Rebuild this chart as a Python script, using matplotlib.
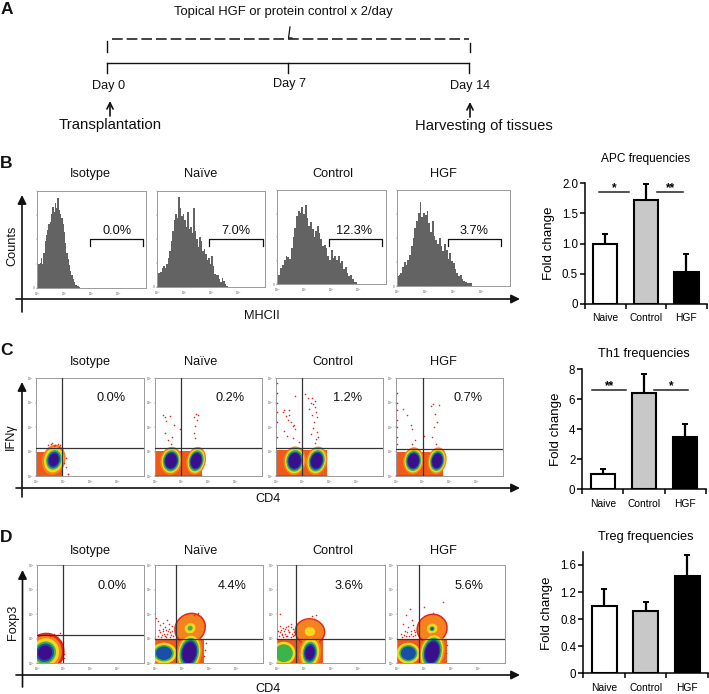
import matplotlib
matplotlib.use('Agg')
import matplotlib.pyplot as plt
from matplotlib.patches import Ellipse, Rectangle

plt.rcParams['font.family'] = ['Liberation Sans', 'DejaVu Sans']

W, H = 709, 694
groups = ['Isotype', 'Naïve', 'Control', 'HGF']
bar_names = ['Naive', 'Control', 'HGF']
bar_colors = ['white', '#c8c8c8', 'black']

# histograms, one height per bin (fraction of the panel height)
hist_isotype = [.24, .25, .26, .31, .25, .36, .48, .55, .60, .66, .68, .76, .84, .78, .88, .82, .93, .80, .76, .72,
                .66, .58, .46, .36, .30, .24, .18, .13, .09, .06, .03, .02, .02, .01, 0]
hist_naive = [.15, .15, .16, .20, .22, .20, .24, .30, .38, .48, .58, .70, .76, .72, .94, .82, .74, .76, .70, .62,
              .78, .60, .62, .56, .82, .58, .50, .42, .52, .48, .38, .40, .34, .28, .30, .24, .32, .22, .14, .12,
              .13, .08, .05, .09, .06, .03, .01, 0]
hist_control = [.10, .10, .17, .20, .26, .30, .29, .27, .38, .50, .60, .72, .78, .76, .82, .74, .84, .70, .62, .66,
                .58, .50, .56, .62, .54, .48, .40, .42, .38, .30, .26, .36, .28, .30, .26, .30, .22, .24, .16, .18,
                .12, .08, .10, .05, .02, .02, 0]
hist_hgf = [.10, .11, .14, .20, .25, .22, .27, .32, .42, .50, .60, .68, .76, .88, .72, .76, .74, .78, .66, .56,
            .68, .52, .48, .44, .50, .42, .36, .44, .38, .28, .34, .26, .24, .18, .14, .10, .11, .07, .05, .04,
            .03, .03, .03, 0]
hist_values = [hist_isotype, hist_naive, hist_control, hist_hgf]
hist_span = [.41, .67, .75, .68]
hist_pct = ['0.0%', '7.0%', '12.3%', '3.7%']
th1_pct = ['0.0%', '0.2%', '1.2%', '0.7%']
treg_pct = ['0.0%', '4.4%', '3.6%', '5.6%']

# bar values and top of the error bar
apc_vals = [1.0, 1.73, 0.52]
apc_tops = [1.16, 1.99, 0.82]
th1_vals = [1.0, 6.4, 3.5]
th1_tops = [1.35, 7.7, 4.35]
treg_vals = [1.0, 0.92, 1.43]
treg_tops = [1.24, 1.05, 1.75]

# flow plots, axes are log10 decades 0-4
layer_colors = ['#e8261c', '#f6821f', '#f7d61e', '#3cb44a', '#1a4fa8', '#3b0f8c']
scales = [[1, .86, .72, .56, .46, .36],
          [1, .85, .74, .64, .54, .46],
          [1, .90, .34, .16, .10, .06]]
bed_color = '#f0581c'

# blobs: x, y, width, height, angle, first layer, last layer, scale
th1_blobs = [
    [(.66, .66, 1.0, 1.45, -10, 1, 6, 0)],
    [(.60, .62, .95, 1.35, -6, 1, 6, 1), (1.54, .62, .85, 1.35, -10, 1, 6, 1)],
    [(.70, .62, .98, 1.38, -5, 1, 6, 1), (1.52, .62, .92, 1.38, -10, 1, 6, 1)],
    [(.65, .62, .9, 1.3, -5, 1, 6, 1), (1.54, .62, .82, 1.3, -8, 1, 6, 1)],
]
# beds: x start, width, height
th1_beds = [(0, .95, 1.0), (0, 1.75, 1.02), (0, 1.90, 1.05), (0, 1.75, 1.0)]
treg_blobs = [
    [(.30, .42, 1.45, 1.65, -15, 0, 6, 0)],
    [(1.30, 1.42, 1.15, 1.3, -25, 0, 4, 2), (.33, .40, 1.3, 1.2, 0, 2, 5, 0), (1.27, .42, 1.1, 1.9, -8, 1, 6, 1)],
    [(1.22, 1.28, 1.15, 1.1, -25, 0, 3, 2), (.25, .40, 1.2, 1.3, 0, 2, 4, 0), (1.22, .42, .95, 1.6, -5, 1, 6, 0)],
    [(1.30, 1.40, 1.15, 1.25, -20, 0, 5, 2), (.42, .40, 1.2, 1.2, 0, 2, 5, 0), (1.30, .44, 1.1, 1.9, -10, 1, 6, 1)],
]
treg_beds = [None, (0, 1.80, .97), (0, 1.70, .97), (0, 1.85, 1.0)]
th1_gates = [(.96, 1.16), (.98, 1.14), (.99, 1.14), (1.02, 1.12)]
treg_gates = [(.99, 1.13), (.76, .97), (.71, .97), (.82, 1.0)]

# sparse events above the populations
th1_dots_x = [
    [.45, .55, .65, .72, .80, .58, 1.05, 1.12, 1.2, .85, .90, 1.10, 1.18],
    [.30, .38, .42, .55, .65, .70, .38, .60, .50, .95, 1.45, 1.55, 1.62, 1.58, 1.50, 1.46, 1.48],
    [.04, .04, .04, .04, .04, .04, .25, .30, .38, .45, .5, .55, .62, .70, .72, .68, .40, .30, .85, .62, .48,
     1.1, 1.2, 1.3, 1.35, 1.4, 1.45, 1.5, 1.55, 1.42, 1.38, 1.3, 1.48, 1.52, 1.25, 1.36, 1.44, 1.46, 1.56],
    [.03, .03, .03, .03, .03, .03, .03, .28, .40, .55, .60, .72, .58, 1.05, 1.32, 1.40, 1.45, 1.55, 1.60, 1.42, 1.36, 1.5],
]
th1_dots_y = [
    [1.25, 1.3, 1.22, 1.28, 1.32, 1.36, .55, .35, .1, 1.2, 1.25, .75, .08],
    [2.5, 2.4, 2.25, 2.45, 1.6, 2.1, 1.75, 1.3, 1.45, 1.9, 2.4, 2.55, 2.5, 2.3, 2.05, 1.75, 1.55],
    [3.8, 3.4, 3.0, 2.6, 2.2, 1.6, 2.6, 2.7, 2.45, 2.3, 2.5, 2.2, 2.05, 1.9, 3.25, 2.1, 1.65, 1.85, 1.4, 1.55, 2.7,
     3.35, 3.2, 3.0, 3.2, 2.95, 2.8, 2.6, 2.4, 2.2, 1.95, 1.7, 1.5, 1.8, 2.75, 2.5, 3.05, 1.35, 1.6],
    [3.4, 3.0, 2.7, 2.3, 2.0, 1.6, 1.3, 2.75, 2.5, 2.1, 1.9, 1.45, 1.3, 1.65, 2.85, 2.95, 2.55, 2.2, 2.9, 2.0, 1.6, 1.3],
]
treg_dots_x = [
    [.50, .62, .78, .85, .88, .92, .95, 1.02, 1.0, .98],
    [.05, .12, .18, .30, .38, .45, .52, .62, .20, .35, .48, .58, 1.45, 1.6, .30, .42, .10, .22, .28, .36, .44, .50,
     .56, .64, .68, .14, .26, .40, .54, 1.9, 1.85, 1.8],
    [.10, .15, .25, .35, .42, .5, .6, .2, .3, .45, 1.3, 1.38, 1.45, .55, .12, .05, .08, .18, .22, .28, .38, .46,
     .52, .58, .62, .12, .24, .33, .4, .5, .64, .68],
    [.22, .35, .48, .55, .62, .3, .42, .5, .65, 1.0, 1.35, 1.72, .15, .6, .18, .26, .34, .38, .46, .52, .58, .68,
     .74, 1.85, 1.8],
]
treg_dots_y = [
    [1.12, 1.18, 1.15, 1.22, .9, .7, .5, .35, .2, .85],
    [1.85, 1.7, 1.55, 1.4, 1.45, 1.75, 1.6, 1.5, 1.25, 1.2, 1.3, 1.15, 1.95, 2.05, 1.65, 1.35, 1.1, 1.05, 1.3, 1.1,
     1.2, 1.38, 1.05, 1.3, 1.1, 1.35, 1.15, 1.05, 1.25, .8, .55, .3],
    [1.5, 1.35, 1.3, 1.45, 1.35, 1.6, 1.4, 1.15, 1.2, 1.25, 1.9, 1.8, 1.95, 1.2, 2.0, 1.3, 1.1, 1.2, 1.05, 1.38,
     1.1, 1.25, 1.45, 1.1, 1.25, 1.25, 1.42, 1.12, 1.5, 1.05, 1.15, 1.3],
    [1.6, 1.95, 2.2, 1.75, 1.35, 1.3, 1.45, 1.2, 1.25, 2.3, 2.05, 2.5, 1.2, 1.55, 1.05, 1.15, 1.1, 1.25, 1.1, 1.3,
     1.1, 1.15, 1.3, .75, .4],
]


def px_axes(fig, x0, y0, x1, y1):
    return fig.add_axes([x0 / W, 1 - y1 / H, (x1 - x0) / W, (y1 - y0) / H])


def style_panel(ax):
    for s in ax.spines.values():
        s.set_color('#9a9a9a')
        s.set_linewidth(0.7)
    ax.tick_params(length=1, width=0.3, color='#666666', labelsize=2.2, pad=0.5, labelcolor='#555555')


def plot_hist(ax, values, span):
    step = span / len(values)
    bins = [i * step for i in range(len(values))]
    ax.bar(bins, values, width=step, align='edge', color='#636363', linewidth=0)
    ax.set_xlim(0, 1)
    ax.set_ylim(0, 1)
    ax.set_xticks([0, .25, .5, .75, 1])
    ax.set_yticks([0, .25, .5, .75, 1])
    ax.set_xticklabels(['10$^0$', '10$^1$', '10$^2$', '10$^3$', ''])
    ax.set_yticklabels(['0', '', '', '', ''])
    style_panel(ax)


def plot_flow(ax, blobs, gate, xs, ys, bed, base_line):
    ax.set_xlim(0, 4)
    ax.set_ylim(0, 4)
    if bed is not None:
        ax.add_patch(Rectangle((bed[0], 0), bed[1], bed[2], color=bed_color, lw=0, zorder=1))
    z = 2
    for cx, cy, w, h, ang, first, last, sc in blobs:
        for k in range(first, last):
            ax.add_patch(Ellipse((cx, cy), w * scales[sc][k], h * scales[sc][k], angle=ang,
                                 color=layer_colors[k], lw=0, zorder=z))
            z += 1
    if base_line and bed is not None:
        ax.plot([bed[0], bed[0] + bed[1]], [0.02, 0.02], color='#3b0f8c', lw=1, zorder=z)
    ax.scatter(xs, ys, s=1.3, color='#e8261c', linewidths=0, zorder=z)
    ax.axvline(gate[0], color='#333333', lw=0.9, zorder=z + 1)
    ax.axhline(gate[1], color='#333333', lw=0.9, zorder=z + 1)
    ax.set_xticks(range(5))
    ax.set_yticks(range(5))
    ax.set_xticklabels(['10$^%d$' % i for i in range(4)] + [''])
    ax.set_yticklabels(['10$^%d$' % i for i in range(5)])
    style_panel(ax)


def plot_bars(ax, vals, tops, yticks, ylabels, ymax):
    lower = [0, 0, 0]
    upper = [t - v for t, v in zip(tops, vals)]
    ax.bar(range(3), vals, width=0.6, color=bar_colors, edgecolor='black', linewidth=1.5, zorder=2,
           yerr=[lower, upper], error_kw=dict(ecolor='black', elinewidth=1.6, capsize=2.2, capthick=1.4, zorder=1))
    ax.set_xlim(-0.5, 2.5)
    ax.set_ylim(0, ymax)
    ax.spines['top'].set_visible(False)
    ax.spines['right'].set_visible(False)
    ax.spines['left'].set_linewidth(1.1)
    ax.spines['bottom'].set_linewidth(1.1)
    ax.set_yticks(yticks)
    ax.set_yticklabels(ylabels, fontsize=8.3)
    ax.set_xticks([-.5, .5, 1.5, 2.5])
    ax.set_xticklabels([])
    ax.set_xticks([0, 1, 2], minor=True)
    ax.set_xticklabels(bar_names, minor=True, fontsize=7.4)
    ax.tick_params(axis='x', which='major', length=3.5, width=1.1)
    ax.tick_params(axis='x', which='minor', length=0, pad=7)
    ax.tick_params(axis='y', length=3.5, width=1.1, pad=1.5)
    ax.set_ylabel('Fold change', fontsize=9.6, labelpad=5)


def sig_line(ax, x0, x1, y, stars, off):
    ax.plot([x0, x1], [y, y], color='#222222', lw=1.1, clip_on=False, zorder=3)
    ax.text((x0 + x1) / 2, y - off, stars, ha='center', va='center', fontsize=8.5, fontweight='bold', zorder=3)


fig = plt.figure(figsize=(W / 100, H / 100), dpi=100)

# overlay in pixel coordinates for the annotations
over = fig.add_axes([0, 0, 1, 1], zorder=10)
over.set_xlim(0, W)
over.set_ylim(H, 0)
over.axis('off')
over.patch.set_alpha(0)


def txt(x, y, s, size=9.2, **kw):
    kw.setdefault('ha', 'center')
    over.text(x, y, s, fontsize=size, va='center', color='#111111', **kw)


def arrow(x0, y0, x1, y1, lw=1.2, scale=13, style='-|>'):
    over.annotate('', xy=(x1, y1), xytext=(x0, y0),
                  arrowprops=dict(arrowstyle=style, lw=lw, color='#111111', mutation_scale=scale,
                                  shrinkA=0, shrinkB=0))


# panel A
for letter, y in zip('ABCD', [9, 163, 350, 537]):
    txt(6.5, y, letter, size=12.5, fontweight='bold')
txt(283, 12, 'Topical HGF or protein control x 2/day', size=9.4)
over.plot([107, 469], [62.5, 62.5], color='#111111', lw=1)
for x in [107, 288, 469]:
    over.plot([x, x], [62.5, 73], color='#111111', lw=1)
over.plot([112, 469], [38.5, 38.5], color='#111111', lw=1.1, dashes=(7, 2.6))
over.plot([107, 107], [41, 52], color='#111111', lw=1)
over.plot([470, 470], [43, 52], color='#111111', lw=1)
over.plot([290, 288.5, 292], [27, 38, 38], color='#111111', lw=0.9)
txt(109, 86, 'Day 0')
txt(290, 84, 'Day 7')
txt(470, 86, 'Day 14')
arrow(110, 116, 110, 101, lw=1.2, scale=11, style='->')
arrow(470, 117, 470, 102, lw=1.2, scale=11, style='->')
txt(110, 125, 'Transplantation', size=10.8)
txt(484, 126, 'Harvesting of tissues', size=10.6)

# panel B
hist_boxes = [(37, 191, 146, 288), (157, 191, 265, 287), (277, 190, 386, 284), (397, 190, 510, 286)]
title_x = [90, 201, 333, 443]
pct_x = [117, 236, 354, 474]
bracket_x = [(90, 143), (209, 263), (329, 382), (448, 501)]
for i, box in enumerate(hist_boxes):
    plot_hist(px_axes(fig, *box), hist_values[i], hist_span[i])
    txt(title_x[i], 174, groups[i])
    txt(pct_x[i], 231, hist_pct[i])
    bx = bracket_x[i]
    over.plot([bx[0], bx[0], bx[1], bx[1]], [246, 239, 239, 246], color='#111111', lw=0.9)
arrow(22, 312, 22, 195)
arrow(16, 299, 520, 299)
txt(262, 316, 'MHCII')
txt(12, 246, 'Counts', rotation=90)

# panel C
th1_boxes = [(36, 378, 144, 476), (155, 378, 262, 476), (276, 378, 383, 476), (396, 378, 503, 476)]
pct_x = [111, 230, 348, 468]
for i, box in enumerate(th1_boxes):
    ax = px_axes(fig, *box)
    plot_flow(ax, th1_blobs[i], th1_gates[i], th1_dots_x[i], th1_dots_y[i], th1_beds[i], i > 0)
    txt(title_x[i], 362, groups[i])
    txt(pct_x[i], 398, th1_pct[i])
arrow(22, 497, 22, 382)
arrow(16, 488, 520, 488)
txt(268, 499, 'CD4')
txt(11, 437, 'IFNγ', rotation=90)

# panel D
treg_boxes = [(37, 565, 144, 663), (155, 565, 263, 663), (277, 565, 385, 663), (397, 565, 505, 663)]
pct_x = [112, 232, 349, 469]
for i, box in enumerate(treg_boxes):
    ax = px_axes(fig, *box)
    plot_flow(ax, treg_blobs[i], treg_gates[i], treg_dots_x[i], treg_dots_y[i], treg_beds[i], False)
    txt(title_x[i], 551, groups[i])
    txt(pct_x[i], 586, treg_pct[i])
arrow(22.5, 687, 22.5, 570)
arrow(16, 675, 520, 675)
txt(268, 689, 'CD4')
txt(13, 622, 'Foxp3', rotation=90)

# bar charts
ax = px_axes(fig, 585, 183.3, 706.7, 303.7)
plot_bars(ax, apc_vals, apc_tops, [0, .5, 1, 1.5, 2], ['0', '0.5', '1.0', '1.5', '2.0'], 2.0)
sig_line(ax, -.15, .59, 1.85, '*', -0.07)
sig_line(ax, 1.28, 1.92, 1.85, '**', -0.07)
ax.set_title('APC frequencies', fontsize=8.6, pad=15)

ax = px_axes(fig, 582.3, 369.3, 705.7, 489.3)
plot_bars(ax, th1_vals, th1_tops, [0, 2, 4, 6, 8], ['0', '2', '4', '6', '8'], 8)
sig_line(ax, -.26, .57, 6.62, '**', -0.28)
sig_line(ax, 1.24, 2.08, 6.62, '*', -0.28)
ax.set_title('Th1 frequencies', fontsize=9.2, pad=9)

ax = px_axes(fig, 583.3, 552.3, 708, 673.3)
plot_bars(ax, treg_vals, treg_tops, [0, .4, .8, 1.2, 1.6], ['0', '0.4', '0.8', '1.2', '1.6'], 1.787)
ax.set_title('Treg frequencies', fontsize=9.2, pad=9)

fig.savefig('out.png', dpi=100)
